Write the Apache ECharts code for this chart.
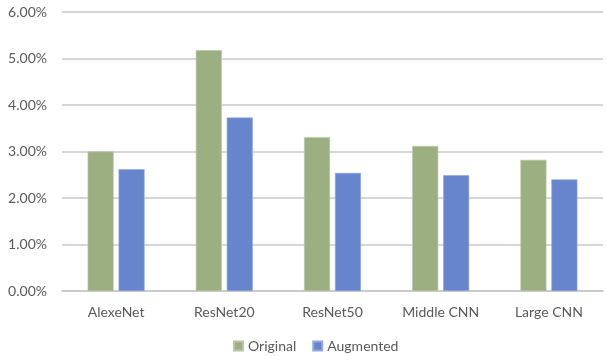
<!DOCTYPE html>
<html>
<head>
<meta charset="utf-8">
<script src="https://cdn.jsdelivr.net/npm/echarts@6/dist/echarts.min.js"></script>
<style>
  html, body { margin: 0; padding: 0; background: #fff; }
  #chart { width: 606px; height: 356px; }
</style>
</head>
<body>
<div id="chart"></div>
<script>
// Error rates per model, in percent
const models = ['AlexeNet', 'ResNet20', 'ResNet50', 'Middle CNN', 'Large CNN'];
const original = [3.00, 5.18, 3.31, 3.12, 2.82];
const augmented = [2.62, 3.73, 2.54, 2.49, 2.40];

const textColor = '#595959';
const font = 'Lato, "Open Sans", sans-serif';

const chart = echarts.init(document.getElementById('chart'));
chart.setOption({
  animation: false,
  textStyle: { fontFamily: font },
  grid: { left: 62, right: 3, top: 12, bottom: 65 },
  legend: {
    bottom: 3,
    padding: 0,
    left: 233,
    itemWidth: 9,
    itemHeight: 9,
    itemGap: 16,
    icon: 'rect',
    textStyle: { color: textColor, fontSize: 14, fontFamily: font }
  },
  xAxis: {
    type: 'category',
    data: models,
    axisTick: { show: false },
    axisLine: { lineStyle: { color: '#c8c8c8', width: 1.5 } },
    axisLabel: { color: textColor, fontSize: 14, margin: 14 }
  },
  yAxis: {
    type: 'value',
    min: 0,
    max: 6,
    interval: 1,
    axisLabel: {
      color: textColor,
      fontSize: 14,
      margin: 15,
      formatter: v => v.toFixed(2) + '%'
    },
    splitLine: { lineStyle: { color: '#c8c8c8', width: 1.5 } }
  },
  series: [
    {
      name: 'Original',
      type: 'bar',
      data: original,
      barWidth: 26,
      barGap: '19%',
      itemStyle: { color: '#9baf80', borderColor: '#b9c6a8', borderWidth: 0.6 }
    },
    {
      name: 'Augmented',
      type: 'bar',
      data: augmented,
      barWidth: 26,
      itemStyle: { color: '#6685cc', borderColor: '#93a8dc', borderWidth: 0.6 }
    }
  ]
});
</script>
</body>
</html>
